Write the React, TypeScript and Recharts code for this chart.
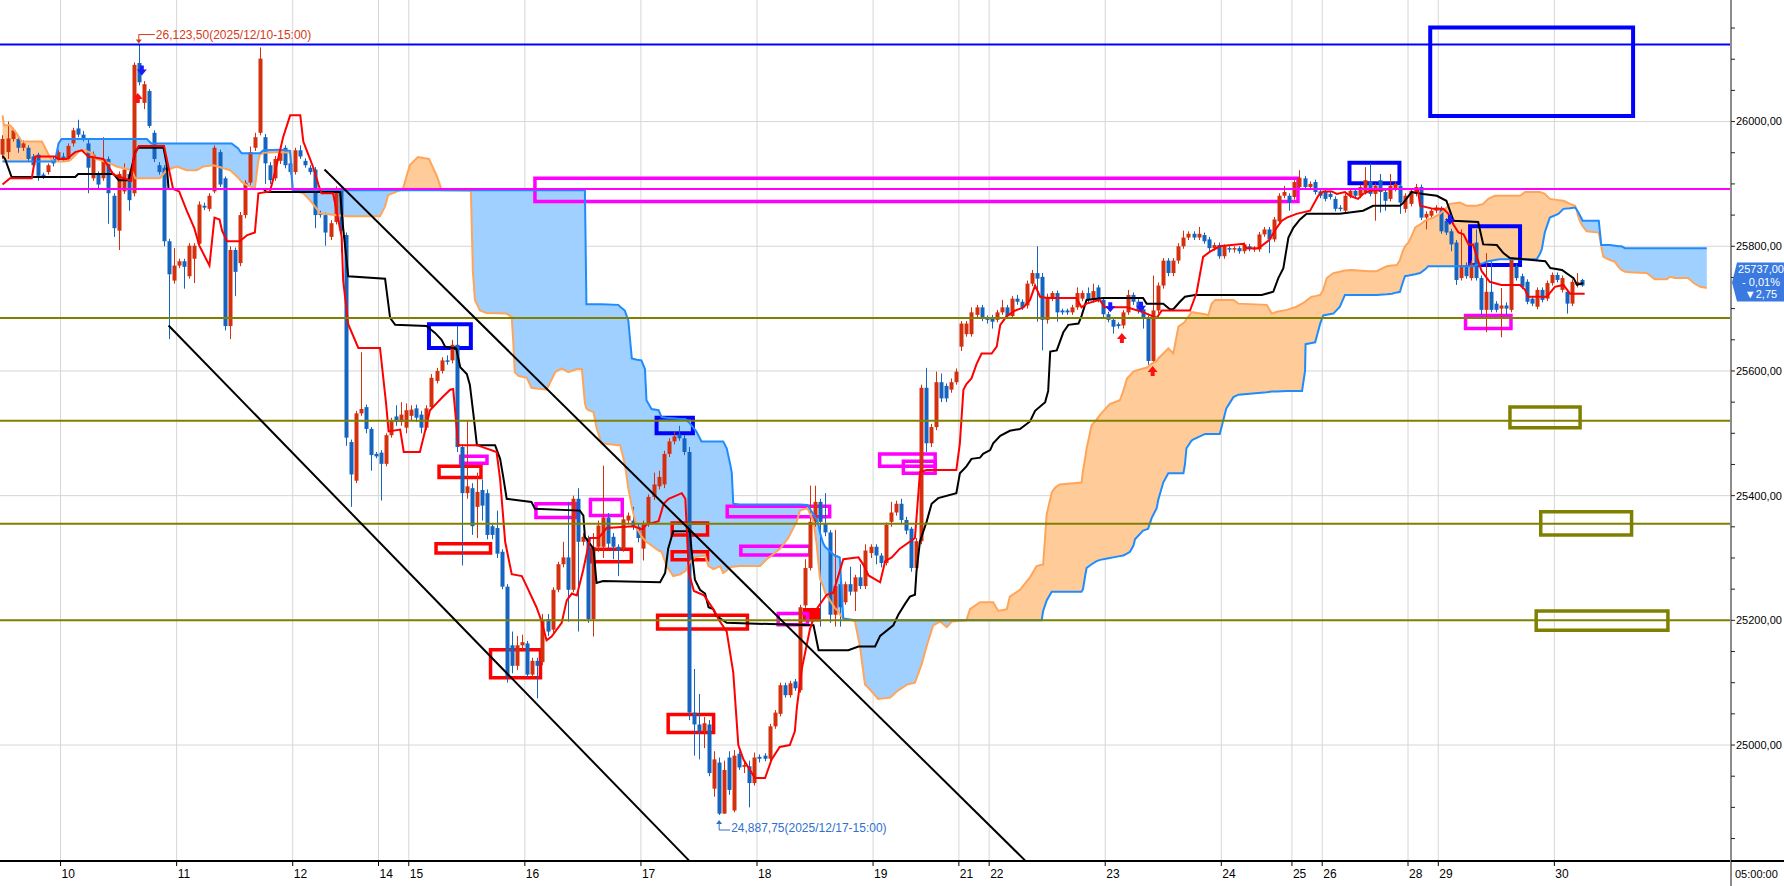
import React from "react";
import {
  Area,
  Bar,
  CartesianGrid,
  ComposedChart,
  Line,
  ReferenceArea,
  ReferenceLine,
  Scatter,
  XAxis,
  YAxis,
} from "recharts";

// hourly candles, index 0 = 12/09 12:00 -> [open, high, low, close]
const candles: [number, number, number, number][] = [
  [25947, 25978, 25940, 25972], [25951, 26000, 25940, 25973], [25972, 25990, 25968, 25986], [25972, 25976, 25950, 25958],
  [25958, 25970, 25953, 25965], [25958, 25962, 25935, 25940], [25944, 25948, 25925, 25930], [25947, 25950, 25905, 25913],
  [25915, 25918, 25908, 25912], [25919, 25933, 25915, 25930], [25940, 25944, 25928, 25933], [25940, 25955, 25936, 25951],
  [25944, 25950, 25936, 25940], [25940, 25965, 25936, 25961], [25965, 25990, 25960, 25986], [25989, 26003, 25975, 25979],
  [25979, 25985, 25968, 25972], [25965, 25972, 25885, 25926], [25909, 25952, 25905, 25947], [25916, 25920, 25892, 25899],
  [25909, 25975, 25905, 25940], [25940, 25944, 25836, 25885], [25881, 25885, 25815, 25829], [25825, 25920, 25794, 25916],
  [25888, 25933, 25884, 25923], [25916, 25920, 25857, 25874], [25885, 26095, 25880, 26091], [26094, 26123.5, 26058, 26063],
  [26030, 26065, 26020, 26060], [26049, 26052, 25990, 25993], [25982, 25986, 25935, 25940], [25930, 25935, 25915, 25919],
  [25926, 25930, 25800, 25808], [25808, 25812, 25651, 25755], [25745, 25797, 25740, 25769], [25769, 25780, 25765, 25776],
  [25776, 25780, 25732, 25767], [25752, 25805, 25748, 25801], [25780, 25805, 25741, 25801], [25804, 25872, 25800, 25867],
  [25865, 25870, 25858, 25862], [25860, 25885, 25856, 25881], [25888, 25962, 25885, 25958], [25951, 25955, 25895, 25899],
  [25909, 25912, 25665, 25672], [25672, 25800, 25651, 25794], [25794, 25798, 25720, 25759], [25773, 25855, 25768, 25850],
  [25850, 25906, 25845, 25902], [25902, 25960, 25898, 25951], [25958, 25982, 25953, 25975], [25982, 26119, 25978, 26101],
  [25975, 25980, 25900, 25933], [25930, 25935, 25900, 25906], [25909, 25945, 25905, 25940], [25937, 25958, 25932, 25954],
  [25958, 25962, 25925, 25930], [25933, 25937, 25915, 25919], [25919, 25958, 25915, 25954], [25954, 25962, 25940, 25944],
  [25937, 25941, 25926, 25930], [25926, 25930, 25915, 25919], [25923, 25927, 25829, 25850], [25853, 25857, 25846, 25850],
  [25850, 25854, 25801, 25822], [25815, 25842, 25810, 25837], [25839, 25896, 25835, 25892], [25892, 25896, 25790, 25825],
  [25818, 25822, 25480, 25493], [25486, 25490, 25382, 25434], [25424, 25536, 25420, 25532], [25532, 25630, 25528, 25539],
  [25542, 25546, 25500, 25507], [25507, 25510, 25440, 25465], [25467, 25470, 25460, 25463], [25469, 25473, 25392, 25451],
  [25451, 25500, 25447, 25497], [25497, 25525, 25493, 25521], [25527, 25545, 25512, 25518], [25518, 25550, 25512, 25530],
  [25509, 25548, 25500, 25537], [25528, 25545, 25520, 25538], [25540, 25546, 25518, 25525], [25530, 25536, 25500, 25509],
  [25509, 25545, 25505, 25540], [25542, 25595, 25538, 25589], [25584, 25605, 25580, 25600], [25600, 25622, 25596, 25617],
  [25617, 25625, 25610, 25615], [25617, 25650, 25612, 25642], [25642, 25672, 25470, 25478], [25478, 25482, 25288, 25404],
  [25404, 25520, 25395, 25415], [25412, 25420, 25337, 25351], [25382, 25437, 25332, 25406], [25409, 25426, 25360, 25384],
  [25404, 25410, 25330, 25337], [25351, 25355, 25330, 25337], [25348, 25376, 25300, 25307], [25310, 25314, 25250, 25254],
  [25254, 25258, 25100, 25110], [25160, 25182, 25115, 25127], [25127, 25175, 25120, 25160], [25160, 25177, 25150, 25165],
  [25163, 25167, 25108, 25113], [25113, 25140, 25108, 25135], [25135, 25140, 25075, 25127], [25133, 25210, 25128, 25199],
  [25202, 25210, 25175, 25182], [25185, 25253, 25180, 25249], [25249, 25294, 25245, 25290], [25290, 25326, 25285, 25301],
  [25301, 25390, 25198, 25249], [25249, 25400, 25245, 25395], [25395, 25412, 25182, 25326], [25326, 25340, 25320, 25334],
  [25332, 25336, 25196, 25202], [25202, 25340, 25174, 25318], [25318, 25360, 25310, 25352], [25318, 25448, 25300, 25365],
  [25365, 25372, 25315, 25323], [25334, 25340, 25298, 25318], [25318, 25322, 25271, 25312], [25315, 25370, 25310, 25362],
  [25360, 25373, 25355, 25368], [25360, 25382, 25345, 25350], [25350, 25355, 25325, 25332], [25315, 25360, 25296, 25354],
  [25354, 25402, 25350, 25398], [25398, 25437, 25393, 25418], [25415, 25440, 25410, 25430], [25418, 25472, 25412, 25467],
  [25467, 25492, 25462, 25487], [25487, 25503, 25482, 25495], [25498, 25512, 25488, 25492], [25492, 25497, 25465, 25470],
  [25470, 25478, 25040, 25052], [25052, 25122, 24983, 25033], [25033, 25082, 24977, 25022], [25022, 25045, 24995, 25035],
  [25033, 25040, 24950, 24955], [24930, 24990, 24917, 24977], [24972, 24980, 24887.75, 24890], [24890, 24975, 24890, 24960],
  [24980, 24990, 24920, 24928], [24895, 24992, 24892, 24983], [24986, 24990, 24960, 24964], [24965, 24975, 24955, 24968],
  [24966, 24975, 24900, 24939], [24939, 24988, 24935, 24980], [24981, 24985, 24972, 24978], [24983, 24987, 24974, 24978],
  [24978, 25034, 24974, 25030], [25030, 25056, 25026, 25052], [25050, 25100, 25046, 25096], [25096, 25100, 25076, 25080],
  [25080, 25103, 25076, 25099], [25102, 25106, 25087, 25091], [25088, 25225, 25084, 25221], [25224, 25298, 25220, 25284],
  [25284, 25416, 25280, 25358], [25358, 25416, 25350, 25390], [25390, 25395, 25190, 25358], [25355, 25404, 25335, 25341],
  [25341, 25345, 25196, 25209], [25209, 25345, 25190, 25255], [25258, 25262, 25190, 25221], [25229, 25262, 25225, 25258],
  [25258, 25286, 25240, 25246], [25246, 25273, 25215, 25269], [25269, 25290, 25250, 25255], [25255, 25322, 25250, 25312],
  [25308, 25322, 25300, 25318], [25318, 25322, 25290, 25304], [25304, 25308, 25285, 25292], [25292, 25357, 25288, 25353],
  [25358, 25390, 25350, 25373], [25373, 25392, 25368, 25387], [25387, 25395, 25355, 25361], [25361, 25366, 25338, 25344],
  [25347, 25350, 25278, 25284], [25284, 25332, 25280, 25327], [25327, 25578, 25322, 25573], [25573, 25605, 25470, 25484],
  [25484, 25515, 25478, 25510], [25510, 25599, 25505, 25582], [25582, 25596, 25550, 25556], [25576, 25580, 25550, 25556],
  [25570, 25588, 25565, 25582], [25582, 25604, 25578, 25599], [25639, 25680, 25632, 25676], [25659, 25680, 25655, 25676],
  [25659, 25702, 25655, 25694], [25690, 25706, 25686, 25702], [25702, 25706, 25680, 25685], [25685, 25689, 25676, 25682],
  [25685, 25690, 25668, 25679], [25682, 25698, 25678, 25694], [25694, 25714, 25690, 25702], [25702, 25706, 25684, 25688],
  [25688, 25720, 25684, 25716], [25716, 25722, 25706, 25711], [25711, 25715, 25698, 25702], [25705, 25745, 25700, 25740],
  [25740, 25762, 25736, 25757], [25757, 25800, 25679, 25748], [25751, 25757, 25633, 25682], [25682, 25724, 25676, 25719],
  [25716, 25728, 25712, 25725], [25725, 25729, 25679, 25694], [25697, 25700, 25690, 25694], [25697, 25700, 25690, 25694],
  [25694, 25706, 25690, 25702], [25702, 25734, 25698, 25725], [25716, 25729, 25712, 25725], [25725, 25734, 25710, 25714],
  [25714, 25740, 25710, 25728], [25734, 25738, 25710, 25714], [25714, 25718, 25686, 25691], [25691, 25695, 25678, 25682],
  [25682, 25686, 25660, 25671], [25675, 25678, 25668, 25672], [25673, 25698, 25668, 25694], [25694, 25730, 25690, 25722],
  [25722, 25726, 25706, 25711], [25711, 25715, 25692, 25697], [25699, 25703, 25668, 25685], [25685, 25689, 25610, 25616],
  [25616, 25753, 25612, 25697], [25697, 25742, 25692, 25737], [25737, 25781, 25732, 25777], [25777, 25781, 25752, 25757],
  [25757, 25781, 25752, 25777], [25777, 25805, 25772, 25800], [25800, 25825, 25796, 25814], [25814, 25824, 25810, 25820],
  [25820, 25824, 25810, 25814], [25814, 25831, 25810, 25820], [25818, 25822, 25804, 25808], [25811, 25815, 25792, 25797],
  [25797, 25806, 25793, 25802], [25802, 25806, 25780, 25784], [25784, 25803, 25780, 25800], [25797, 25800, 25790, 25795],
  [25795, 25800, 25790, 25797], [25797, 25800, 25788, 25792], [25792, 25806, 25788, 25803], [25800, 25804, 25792, 25795],
  [25795, 25800, 25791, 25797], [25795, 25823, 25791, 25819], [25819, 25831, 25815, 25827], [25827, 25831, 25789, 25811],
  [25811, 25847, 25807, 25843], [25840, 25885, 25836, 25881], [25881, 25897, 25877, 25887], [25881, 25885, 25857, 25870],
  [25879, 25906, 25875, 25903], [25895, 25922, 25891, 25910], [25909, 25913, 25891, 25895], [25895, 25904, 25891, 25900],
  [25903, 25907, 25883, 25887], [25888, 25892, 25877, 25881], [25888, 25892, 25872, 25876], [25884, 25888, 25875, 25879],
  [25876, 25880, 25856, 25860], [25862, 25866, 25856, 25860], [25857, 25885, 25853, 25881], [25881, 25893, 25877, 25889],
  [25889, 25893, 25877, 25881], [25881, 25899, 25877, 25895], [25887, 25927, 25883, 25906], [25903, 25933, 25880, 25884],
  [25884, 25901, 25841, 25897], [25906, 25916, 25854, 25887], [25887, 25891, 25857, 25873], [25876, 25916, 25872, 25897],
  [25892, 25904, 25888, 25900], [25897, 25901, 25852, 25870], [25860, 25885, 25854, 25881], [25868, 25893, 25864, 25889],
  [25884, 25900, 25880, 25895], [25895, 25899, 25842, 25846], [25846, 25856, 25827, 25852], [25849, 25861, 25845, 25857],
  [25857, 25866, 25853, 25862], [25860, 25864, 25820, 25824], [25841, 25845, 25818, 25822], [25824, 25828, 25792, 25803],
  [25806, 25810, 25738, 25746], [25749, 25827, 25745, 25770], [25770, 25774, 25748, 25752], [25749, 25777, 25745, 25773],
  [25806, 25827, 25745, 25749], [25749, 25753, 25690, 25698], [25698, 25789, 25662, 25727], [25727, 25776, 25694, 25698],
  [25708, 25712, 25694, 25698], [25700, 25733, 25654, 25705], [25705, 25710, 25690, 25700], [25698, 25782, 25694, 25779],
  [25768, 25772, 25745, 25749], [25752, 25756, 25731, 25735], [25743, 25747, 25707, 25711], [25716, 25720, 25704, 25708],
  [25703, 25734, 25699, 25730], [25730, 25734, 25710, 25714], [25716, 25745, 25712, 25741], [25741, 25758, 25737, 25754],
  [25754, 25758, 25742, 25746], [25730, 25753, 25726, 25749], [25727, 25731, 25692, 25708], [25708, 25747, 25704, 25743],
  [25738, 25757, 25734, 25743], [25746, 25748, 25735, 25737],
];

// conversion line (red) [bar, price]
const tenkanPts: [number, number][] = [
  [0, 25899], [1.5, 25909], [5.8, 25909], [6.5, 25944], [10.4, 25944], [11, 25940], [12.7, 25940], [14.4, 25951],
  [15.7, 25954], [17, 25944], [20, 25940], [22, 25915], [25.5, 25905], [26, 25944], [27, 25961], [32, 25961],
  [33.8, 25892], [35, 25888], [36.5, 25857], [38, 25829], [39, 25801], [41, 25769], [42, 25846], [43, 25843],
  [43.5, 25825], [44.5, 25808], [47, 25808], [48.5, 25818], [50, 25822], [50.7, 25885], [53, 25888], [54, 25919],
  [55.6, 25975], [57, 26010], [59, 26010], [59.6, 25968], [60.6, 25947], [61.6, 25926], [62.6, 25899], [63.2, 25885],
  [65.5, 25885], [67.2, 25815], [67.5, 25745], [68.5, 25675], [70.5, 25637], [74.8, 25637], [76, 25548], [76.5, 25503],
  [78.8, 25506], [79.5, 25470], [82.7, 25470], [83.7, 25503], [84.7, 25537], [86, 25548], [87.3, 25559], [88.7, 25570],
  [89.3, 25571], [90.3, 25481], [94, 25481], [97.9, 25470], [98.6, 25426], [99.6, 25326], [100.9, 25274], [102.9, 25271],
  [103.9, 25254], [105.8, 25221], [106.8, 25199], [107.8, 25168], [108.8, 25174], [110.8, 25196], [111.8, 25232],
  [112.8, 25243], [113.8, 25240], [115.1, 25282], [116.4, 25332], [118.1, 25332], [119.7, 25348], [125, 25351],
  [126.7, 25346], [127.7, 25354], [130, 25359], [131, 25387], [132, 25395], [134.6, 25404], [135.3, 25395], [136, 25276],
  [137, 25247], [139, 25240], [141, 25216], [142, 25200], [143.5, 25182], [144.8, 25116], [145.8, 25000], [146.8, 24977],
  [149.1, 24947], [151.1, 24947], [152.4, 24977], [154, 24997], [156, 25000], [157, 25022], [157.4, 25060], [158.4, 25123],
  [160, 25186], [161.3, 25218], [163.3, 25241], [164.6, 25244], [166.6, 25298], [169.6, 25301], [170.6, 25289],
  [171.6, 25272], [173.9, 25261], [174.9, 25295], [176.2, 25301], [177.8, 25315], [180.8, 25332], [181.8, 25438],
  [183.1, 25441], [189, 25441], [189.7, 25484], [190.4, 25570], [191, 25579], [192, 25588], [193, 25611], [194, 25628],
  [196, 25628], [197, 25639], [197.7, 25674], [199, 25688], [200.7, 25697], [202.3, 25702], [203.6, 25714], [204.6, 25737],
  [205.6, 25719], [206.9, 25717], [212.8, 25717], [213.8, 25702], [214.8, 25708], [217.4, 25714], [218.4, 25702],
  [222.8, 25702], [226.1, 25694], [228.7, 25685], [229.7, 25697], [235.3, 25697], [236.6, 25725], [237.9, 25783],
  [239.2, 25791], [241.2, 25800], [245.9, 25804], [246.5, 25797], [248.9, 25797], [251, 25810], [252.5, 25830],
  [253.5, 25841], [254.5, 25846], [256.4, 25852], [259.1, 25857], [260.7, 25881], [261.7, 25888], [263.4, 25888],
  [264.4, 25884], [266, 25887], [267, 25881], [268.6, 25876], [269.6, 25884], [271, 25889], [275.3, 25892], [279.6, 25892],
  [280.5, 25889], [280.9, 25865], [283.5, 25860], [285.5, 25860], [286.5, 25852], [287.5, 25835], [288.5, 25822],
  [289.5, 25819], [290.5, 25803], [291.4, 25803], [292.1, 25784], [293.1, 25760], [294.7, 25743], [297, 25738],
  [300.7, 25738], [301.7, 25730], [302.3, 25719], [306, 25719], [307.6, 25735], [309.3, 25738], [310.6, 25724], [313.5, 25724],
];

// base line (black) [bar, price]
const kijunPts: [number, number][] = [
  [0, 25945], [0.5, 25940], [1.8, 25911], [14.4, 25911], [15, 25916], [22, 25916], [23, 25906], [25, 25906],
  [26.3, 25951], [26.9, 25958], [31.9, 25958], [32.5, 25933], [32.9, 25892], [51.7, 25892], [52.3, 25887], [66.9, 25887],
  [67.5, 25829], [68.5, 25752], [75.8, 25748], [76.8, 25685], [77.8, 25674], [84, 25672], [85.7, 25661], [87, 25650],
  [87.7, 25639], [89.9, 25636], [90.7, 25606], [92, 25595], [92.6, 25578], [93.3, 25531], [94, 25481], [97.6, 25481],
  [98.6, 25459], [99.2, 25431], [99.9, 25395], [104.8, 25390], [105.5, 25379], [114.4, 25376], [115.1, 25368],
  [115.4, 25334], [117.1, 25315], [117.7, 25260], [119, 25263], [130.3, 25261], [131.3, 25276], [131.9, 25315],
  [132.9, 25343], [136.2, 25343], [136.5, 25315], [137.2, 25265], [138.2, 25249], [139.2, 25243], [139.9, 25221],
  [140.8, 25218], [141.5, 25207], [143.5, 25196], [160.7, 25192], [161.7, 25152], [167.6, 25152], [169.6, 25158],
  [172.9, 25158], [173.9, 25175], [176.5, 25192], [177.5, 25209], [178.8, 25226], [179.8, 25238], [180.8, 25241],
  [181.1, 25278], [181.8, 25327], [183.1, 25358], [184.1, 25387], [185.4, 25396], [189, 25404], [189.7, 25436],
  [191, 25447], [192, 25459], [193.7, 25461], [194.3, 25467], [195.7, 25473], [196.3, 25484], [197.7, 25496],
  [199.6, 25504], [201.6, 25507], [203.6, 25519], [204.6, 25536], [206.6, 25550], [207.2, 25568], [207.6, 25631],
  [208.9, 25633], [210.2, 25662], [211.2, 25674], [213.2, 25676], [213.8, 25688], [214.8, 25714], [218.1, 25717],
  [226, 25717], [226.7, 25708], [230, 25708], [231.3, 25699], [232, 25699], [233.3, 25711], [234.3, 25719], [236.3, 25722],
  [249.5, 25722], [251.8, 25727], [252.8, 25749], [253.8, 25765], [254.8, 25814], [255.8, 25830], [257.1, 25843],
  [258.4, 25852], [265, 25852], [269.6, 25857], [271.6, 25865], [276.9, 25865], [277.6, 25870], [279.2, 25887],
  [281.5, 25884], [284.2, 25881], [286.1, 25873], [287.5, 25841], [292.4, 25839], [293.4, 25803], [296.1, 25802],
  [297.4, 25789], [298.7, 25781], [305.7, 25776], [306.7, 25765], [309, 25762], [311.3, 25749], [312, 25738], [313.2, 25741],
];

// cloud edges [bar, blue span, orange span]
const cloudPts: [number, number, number][] = [
  [0, 25936, 26010], [0.3, 25936, 25994], [1.5, 25936, 25994], [2.8, 25936, 25981], [3.8, 25936, 25968],
  [7.8, 25936, 25968], [8.7, 25936, 25954], [9.4, 25936, 25942], [10.4, 25936, 25936], [11.1, 25965, 25936],
  [11.7, 25972, 25936], [12.1, 25972, 25936], [13.4, 25972, 25938], [14.4, 25972, 25946], [15.4, 25972, 25954],
  [16.3, 25972, 25954], [17.7, 25972, 25949], [18.3, 25972, 25941], [21.3, 25972, 25933], [22.6, 25972, 25928],
  [25.6, 25972, 25922], [26.3, 25972, 25909], [28.6, 25972, 25909], [29.5, 25965, 25909], [31.2, 25965, 25909],
  [32.5, 25965, 25922], [34.5, 25965, 25928], [36.5, 25965, 25922], [38.5, 25965, 25922], [39.8, 25965, 25928],
  [41.8, 25965, 25930], [45.1, 25965, 25922], [45.4, 25965, 25920], [46.7, 25957, 25910], [47.1, 25952, 25906],
  [47.4, 25949, 25903], [48.4, 25949, 25898], [50, 25949, 25893], [50.7, 25949, 25938], [51, 25949, 25947],
  [51.7, 25954, 25950], [55, 25955, 25951], [57, 25953, 25950], [57.5, 25890, 25890], [59.6, 25890, 25885],
  [60.9, 25890, 25874], [61.9, 25890, 25864], [62.9, 25890, 25853], [68.2, 25890, 25848], [74.8, 25890, 25848],
  [75.8, 25890, 25864], [76.4, 25890, 25882], [78.8, 25890, 25890], [79.4, 25890, 25894], [80.7, 25890, 25930],
  [82.3, 25890, 25943], [84.5, 25890, 25940], [86.1, 25890, 25912], [87, 25890, 25890], [92.8, 25890, 25889],
  [93.2, 25890, 25760], [93.6, 25890, 25714], [94.6, 25890, 25697], [95.9, 25890, 25693], [99.9, 25890, 25692],
  [100.9, 25890, 25686], [101.2, 25890, 25647], [101.5, 25890, 25598], [102.2, 25890, 25592], [103.9, 25890, 25589],
  [104.8, 25890, 25573], [107.8, 25890, 25570], [108.5, 25890, 25581], [109.5, 25890, 25598], [110.8, 25890, 25604],
  [112.1, 25890, 25598], [113.8, 25890, 25603], [114.8, 25890, 25603], [115.4, 25890, 25548], [115.7, 25707, 25540],
  [116.1, 25707, 25537], [117.1, 25707, 25534], [117.7, 25707, 25509], [118.7, 25707, 25484], [122, 25706, 25481],
  [122.4, 25703, 25481], [123.3, 25697, 25451], [124, 25681, 25412], [124.7, 25620, 25382], [125.7, 25618, 25348],
  [126.6, 25617, 25335], [127.3, 25603, 25328], [127.6, 25553, 25326], [128.6, 25539, 25320], [130, 25537, 25312],
  [130.6, 25526, 25310], [131.6, 25525, 25287], [132.9, 25524, 25271], [134.3, 25523, 25274], [135.3, 25523, 25279],
  [136.2, 25516, 25293], [137.2, 25506, 25301], [137.5, 25503, 25302], [138.5, 25487, 25303], [139.2, 25487, 25304],
  [139.9, 25487, 25287], [140.9, 25487, 25282], [142.2, 25487, 25287], [142.8, 25487, 25276], [143.5, 25476, 25280],
  [144.2, 25450, 25285], [144.5, 25437, 25286], [144.8, 25387, 25286], [146.1, 25386, 25287], [150.1, 25386, 25287],
  [151.4, 25386, 25298], [152.4, 25386, 25304], [154.1, 25386, 25315], [155.7, 25386, 25332], [157.4, 25386, 25359],
  [158, 25386, 25376], [159.5, 25385, 25380], [160.7, 25370, 25358], [161.3, 25362, 25324], [161.7, 25353, 25290],
  [162, 25340, 25266], [162.6, 25324, 25255], [163, 25318, 25244], [164.9, 25304, 25220], [165.6, 25302, 25215],
  [165.9, 25301, 25210], [166.6, 25203, 25203], [168.9, 25200, 25199], [169.9, 25200, 25158], [170.9, 25200, 25097],
  [171.9, 25200, 25089], [173.5, 25200, 25074], [175.9, 25200, 25076], [177.2, 25200, 25086], [179.2, 25200, 25097],
  [180.8, 25200, 25100], [182.1, 25200, 25129], [183.1, 25200, 25158], [184.4, 25200, 25192], [185.8, 25200, 25198],
  [187.1, 25200, 25189], [188.1, 25200, 25198], [191, 25200, 25200], [191.7, 25200, 25218], [193.7, 25200, 25229],
  [196.3, 25200, 25229], [197.3, 25200, 25215], [199, 25200, 25218], [199.6, 25200, 25238], [201.6, 25200, 25249],
  [203.6, 25200, 25269], [204.9, 25200, 25287], [205.9, 25200, 25289], [206.2, 25215, 25289], [206.9, 25232, 25370],
  [207.9, 25246, 25405], [208.6, 25246, 25413], [209.5, 25246, 25418], [213.8, 25246, 25421], [214.1, 25250, 25440],
  [214.5, 25270, 25459], [214.8, 25284, 25475], [215.8, 25290, 25513], [216.8, 25295, 25522], [217.5, 25297, 25530],
  [219.4, 25300, 25547], [220.1, 25301, 25549], [221.4, 25303, 25553], [222.1, 25304, 25568], [222.8, 25307, 25588],
  [223.4, 25310, 25593], [224.1, 25320, 25599], [224.4, 25330, 25600], [226, 25344, 25604], [226.7, 25346, 25605],
  [227, 25347, 25607], [227.7, 25364, 25612], [228.7, 25380, 25616], [229, 25393, 25620], [230, 25421, 25628],
  [231, 25436, 25636], [232, 25436, 25628], [233, 25436, 25671], [234, 25436, 25677], [234.3, 25450, 25679],
  [234.6, 25476, 25683], [235.6, 25488, 25694], [235.9, 25490, 25694], [238.3, 25499, 25691], [238.9, 25499, 25689],
  [239.6, 25499, 25708], [240.3, 25499, 25714], [241.2, 25499, 25714], [242.5, 25540, 25714], [243.9, 25558, 25714],
  [244.9, 25562, 25708], [250.5, 25566, 25706], [251.5, 25567, 25692], [252.5, 25567, 25695], [254.5, 25568, 25698],
  [256.4, 25568, 25703], [257.5, 25568, 25708], [258.1, 25600, 25711], [258.2, 25643, 25712], [259.4, 25645, 25719],
  [260.1, 25646, 25720], [261.1, 25676, 25722], [261.7, 25689, 25730], [262.4, 25690, 25749], [263.7, 25692, 25757],
  [265, 25703, 25759], [266, 25722, 25761], [267.3, 25722, 25762], [270.7, 25722, 25760], [272.3, 25722, 25760],
  [274.3, 25723, 25768], [275.3, 25724, 25769], [276.3, 25726, 25770], [276.9, 25727, 25778], [277.2, 25735, 25786],
  [277.6, 25745, 25795], [277.9, 25752, 25800], [278.6, 25753, 25806], [279.2, 25754, 25816], [279.9, 25755, 25830],
  [280.9, 25757, 25835], [281.9, 25763, 25841], [282.5, 25768, 25843], [283.5, 25768, 25846], [284.8, 25768, 25852],
  [286.2, 25768, 25862], [286.8, 25768, 25868], [288.8, 25768, 25870], [290.1, 25768, 25865], [291.4, 25768, 25865],
  [292.1, 25770, 25865], [293.4, 25773, 25868], [294.4, 25776, 25876], [295.7, 25778, 25881], [296.7, 25779, 25881],
  [300.7, 25779, 25881], [301.7, 25779, 25887], [304, 25779, 25887], [304.6, 25787, 25887], [305, 25795, 25886],
  [305.6, 25822, 25884], [306.6, 25846, 25876], [308.3, 25852, 25874], [309.3, 25860, 25873], [310.6, 25861, 25868],
  [311.6, 25862, 25865], [311.9, 25859, 25859], [312.2, 25855, 25849], [312.6, 25849, 25840], [313.1, 25841, 25832],
  [313.9, 25841, 25824], [316.3, 25841, 25822], [316.8, 25802, 25800], [317.2, 25802, 25783], [318.5, 25802, 25778],
  [319.5, 25801, 25775], [320.2, 25800, 25767], [320.8, 25800, 25762], [321.5, 25797, 25759], [323.1, 25797, 25758],
  [325.8, 25797, 25757], [327.4, 25797, 25747], [329.8, 25797, 25747], [330.4, 25797, 25751], [331.4, 25797, 25749],
  [334, 25797, 25749], [335.1, 25797, 25741], [336.4, 25797, 25735], [337.7, 25797, 25733],
];

// horizontal levels
const levelPrices = [26123.5, 25892, 25685, 25520, 25355, 25200];
const levelKinds = ["blue", "magenta", "olive", "olive", "olive", "olive"];

// drawn boxes [x1, x2, y1, y2, kind]
const boxes: [number, number, number, number, string][] = [
  [282.9, 323.1, 26009, 26151, "blue"],
  [105.5, 256.7, 25872, 25909, "magenta"],
  [266.9, 276.8, 25901, 25934, "blue"],
  [290.8, 300.7, 25770, 25832, "blue"],
  [289.9, 298.9, 25668, 25689, "magenta"],
  [298.7, 312.6, 25509, 25542, "olive"],
  [304.8, 322.8, 25337, 25374, "olive"],
  [303.9, 330, 25184, 25215, "olive"],
  [84.5, 92.8, 25637, 25675, "blue"],
  [129.6, 136.8, 25500, 25525, "blue"],
  [86.5, 94.8, 25429, 25447, "red"],
  [85.9, 96.7, 25308, 25323, "red"],
  [96.7, 106.6, 25108, 25153, "red"],
  [116.7, 124.6, 25294, 25314, "red"],
  [132.7, 139.7, 25337, 25356, "red"],
  [132.7, 139.7, 25297, 25310, "red"],
  [129.8, 147.6, 25186, 25208, "red"],
  [131.9, 140.9, 25020, 25049, "red"],
  [158.9, 161.8, 25201, 25217, "redfill"],
  [178.5, 184.8, 25436, 25455, "magenta"],
  [90.8, 96, 25452, 25463, "magenta"],
  [105.7, 113.8, 25365, 25387, "magenta"],
  [116.5, 122.8, 25368, 25394, "magenta"],
  [143.6, 163.9, 25366, 25383, "magenta"],
  [146.3, 160, 25305, 25319, "magenta"],
  [153.7, 159.5, 25193, 25211, "magenta"],
  [173.8, 184.8, 25447, 25467, "magenta"],
];

// trend lines [x1, y1, x2, y2]
const trendLines: [number, number, number, number][] = [
  [32.9, 25673, 136, 24815],
  [63.8, 25923, 202.6, 24815],
];

// signal arrows [bar, price, dir]
const signals: [number, number, string][] = [
  [27.6, 26082, "down"],
  [26.8, 26038, "up"],
  [219.5, 25702, "down"],
  [225.6, 25703, "down"],
  [221.8, 25653, "up"],
  [227.9, 25600, "up"],
  [286.8, 25842, "down"],
];

const dayTicks = [11.5, 34.5, 57.5, 74.5, 80.5, 103.5, 126.5, 149.5, 172.5, 189.5, 195.5, 218.5, 241.5, 255.5, 261.5, 278.5, 284.5, 307.5];
const dayLabels = ["10", "11", "12", "14", "15", "16", "17", "18", "19", "21", "22", "23", "24", "25", "26", "28", "29", "30"];

const priceTicks = [
  24850, 24900, 24950, 25000, 25050, 25100, 25150, 25200, 25250, 25300, 25350, 25400, 25450, 25500,
  25550, 25600, 25650, 25700, 25750, 25800, 25850, 25900, 25950, 26000, 26050, 26100, 26150,
];
const gridPrices = [25000, 25200, 25400, 25600, 25800, 26000];

const highNote = { bar: 27, price: 26123.5, text: "26,123,50(2025/12/10-15:00)" };
const lowNote = { bar: 142, price: 24887.75, text: "24,887,75(2025/12/17-15:00)" };
const lastPrice = { price: 25737, lines: ["25737,00", "- 0,01%", "\u25BC2,75"] };

const RED = "#d4300e";
const BLUE = "#1565c0";
const KIND_COLOR: Record<string, string> = {
  blue: "#0000ff",
  magenta: "#ff00ff",
  olive: "#808000",
  red: "#ff0000",
  redfill: "#ff0000",
};
const AXIS_FONT = "'Liberation Sans', 'DejaVu Sans', sans-serif";

const candleRows = candles.map(([o, h, l, c], i) => ({ x: i, range: [l, h], ohlc: [o, h, l, c] }));
const tenkanRows = tenkanPts.map(([x, v]) => ({ x, tenkan: v }));
const kijunRows = kijunPts.map(([x, v]) => ({ x, kijun: v }));
const cloudRows = cloudPts.map(([x, b, o]) => ({
  x,
  spanBlue: b,
  spanOrange: o,
  blueFill: b >= o ? [o, b] : null,
  orangeFill: o >= b ? [b, o] : null,
}));
const signalRows = signals.map(([x, y, dir]) => ({ x, y, dir }));

function Candle(props: any) {
  const { x, y, width, height, payload } = props;
  if (!payload || x == null) return null;
  const [o, h, l, c] = payload.ohlc;
  const top = Math.min(y, y + height);
  const span = Math.abs(height);
  const py = (v: number) => top + ((h - v) / (h - l)) * span;
  const cx = Math.round(x + width / 2);
  const color = c >= o ? RED : BLUE;
  const bTop = py(Math.max(o, c));
  const bBot = py(Math.min(o, c));
  return (
    <g>
      <line x1={cx + 0.5} x2={cx + 0.5} y1={top} y2={top + span} stroke={color} strokeWidth={1} />
      <rect x={cx - 1.5} y={bTop} width={4} height={Math.max(1.5, bBot - bTop)} fill={color} />
    </g>
  );
}

function SignalArrow(props: any) {
  const { cx, cy, payload } = props;
  if (cx == null) return null;
  const color = payload.dir === "down" ? "#1a1aff" : "#ff1010";
  const pts =
    payload.dir === "down"
      ? `${cx - 2},${cy - 5} ${cx + 2},${cy - 5} ${cx + 2},${cy - 1} ${cx + 5},${cy - 1} ${cx},${cy + 5} ${cx - 5},${cy - 1} ${cx - 2},${cy - 1}`
      : `${cx - 2},${cy + 5} ${cx + 2},${cy + 5} ${cx + 2},${cy + 1} ${cx + 5},${cy + 1} ${cx},${cy - 5} ${cx - 5},${cy + 1} ${cx - 2},${cy + 1}`;
  return <polygon points={pts} fill={color} />;
}

function HighLabel(props: any) {
  const { cx, cy } = props;
  if (cx == null) return null;
  const col = "#d43a1a";
  return (
    <g>
      <polyline points={`${cx + 16},${cy - 10} ${cx},${cy - 10} ${cx},${cy - 3}`} fill="none" stroke={col} strokeWidth={1} />
      <polygon points={`${cx - 3},${cy - 5} ${cx + 3},${cy - 5} ${cx},${cy - 1}`} fill={col} />
      <text x={cx + 17} y={cy - 10} dy="0.35em" fontSize={12} fill={col} fontFamily="'Liberation Sans', sans-serif">
        {highNote.text}
      </text>
    </g>
  );
}

function LowLabel(props: any) {
  const { cx, cy } = props;
  if (cx == null) return null;
  const col = "#2f6fd0";
  return (
    <g>
      <polyline points={`${cx},${cy + 7} ${cx},${cy + 15} ${cx + 11},${cy + 15}`} fill="none" stroke={col} strokeWidth={1} />
      <polygon points={`${cx - 3},${cy + 9} ${cx + 3},${cy + 9} ${cx},${cy + 5}`} fill={col} />
      <text x={cx + 12} y={cy + 13} dy="0.35em" fontSize={12} fill={col} fontFamily="'Liberation Sans', sans-serif">
        {lowNote.text}
      </text>
    </g>
  );
}

function PriceTag(props: any) {
  const { cx, cy } = props;
  if (cx == null) return null;
  const l = cx + 1;
  const pts = `${l},${cy - 3} ${l + 5},${cy - 23} ${l + 52},${cy - 23} ${l + 52},${cy + 16} ${l + 5},${cy + 16}`;
  return (
    <g>
      <polygon points={pts} fill="#3a7ae0" />
      {lastPrice.lines.map((s, i) => (
        <text
          key={i}
          x={l + 29}
          y={cy - 16 + i * 12.5}
          dy="0.35em"
          textAnchor="middle"
          fontSize={11}
          fill="#fff"
          fontFamily={AXIS_FONT}
        >
          {s}
        </text>
      ))}
    </g>
  );
}

function DayTick(props: any) {
  const { x, y, payload } = props;
  const i = dayTicks.indexOf(payload.value);
  return (
    <text x={x + 1} y={y + 1} dy="0.71em" textAnchor="start" fontSize={12} fill="#000" fontFamily={AXIS_FONT}>
      {dayLabels[i] ?? ""}
    </text>
  );
}

export default function App() {
  return (
    <div style={{ position: "absolute", left: 0, top: 0, width: 1784, height: 886, background: "#fff" }}>
      <ComposedChart width={1784} height={886} data={candleRows} margin={{ top: 0, right: 0, bottom: 0, left: 0 }}>
        <CartesianGrid stroke="#d6d6d6" strokeWidth={1} horizontalValues={gridPrices} verticalValues={dayTicks} />
        <XAxis
          dataKey="x"
          type="number"
          domain={[-0.5, 342.5]}
          ticks={dayTicks}
          interval={0}
          height={25}
          axisLine={{ stroke: "#000", strokeWidth: 2 }}
          tickLine={{ stroke: "#000" }}
          tickSize={5}
          tick={(p: any) => <DayTick {...p} />}
        />
        <YAxis
          orientation="right"
          type="number"
          domain={[24814, 26195]}
          ticks={priceTicks}
          interval={0}
          width={53}
          axisLine={{ stroke: "#8c8c8c", strokeWidth: 2 }}
          tickLine={{ stroke: "#222" }}
          tickSize={4}
          tickMargin={1}
          tick={{ fontSize: 11, fill: "#000", fontFamily: AXIS_FONT }}
          tickFormatter={(v: number) => (v % 200 === 0 ? `${v},00` : "")}
        />
        <Area data={cloudRows} dataKey="blueFill" type="linear" stroke="none" fill="#a0d0ff" fillOpacity={1} dot={false} activeDot={false} isAnimationActive={false} />
        <Area data={cloudRows} dataKey="orangeFill" type="linear" stroke="none" fill="#ffcc99" fillOpacity={1} dot={false} activeDot={false} isAnimationActive={false} />
        <Line data={cloudRows} dataKey="spanOrange" type="linear" stroke="#ffa55a" strokeWidth={2} dot={false} activeDot={false} isAnimationActive={false} />
        <Line data={cloudRows} dataKey="spanBlue" type="linear" stroke="#1e8cff" strokeWidth={2} dot={false} activeDot={false} isAnimationActive={false} />
        <Bar dataKey="range" barSize={4} isAnimationActive={false} activeBar={false} shape={(p: any) => <Candle {...p} />} />
        <Line data={kijunRows} dataKey="kijun" type="linear" stroke="#000" strokeWidth={2} dot={false} activeDot={false} isAnimationActive={false} />
        <Line data={tenkanRows} dataKey="tenkan" type="linear" stroke="#ff0000" strokeWidth={2} dot={false} activeDot={false} isAnimationActive={false} />
        {levelPrices.map((p, i) => (
          <ReferenceLine key={`lv${i}`} y={p} stroke={KIND_COLOR[levelKinds[i]]} strokeWidth={2} />
        ))}
        {trendLines.map(([x1, y1, x2, y2], i) => (
          <ReferenceLine key={`tl${i}`} segment={[{ x: x1, y: y1 }, { x: x2, y: y2 }]} stroke="#000" strokeWidth={2} />
        ))}
        {boxes.map(([x1, x2, y1, y2, kind], i) => (
          <ReferenceArea
            key={`bx${i}`}
            x1={x1}
            x2={x2}
            y1={y1}
            y2={y2}
            fill={kind === "redfill" ? "#ff0000" : "none"}
            fillOpacity={kind === "redfill" ? 1 : 0}
            stroke={KIND_COLOR[kind]}
            strokeWidth={kind === "blue" ? 4 : 3.5}
          />
        ))}
        <Scatter data={signalRows} dataKey="y" isAnimationActive={false} shape={(p: any) => <SignalArrow {...p} />} />
        <Scatter
          data={[{ x: highNote.bar, y: highNote.price }]}
          dataKey="y"
          isAnimationActive={false}
          shape={(p: any) => <HighLabel {...p} />}
        />
        <Scatter
          data={[{ x: lowNote.bar, y: lowNote.price }]}
          dataKey="y"
          isAnimationActive={false}
          shape={(p: any) => <LowLabel {...p} />}
        />
        <Scatter
          data={[{ x: 342.5, y: lastPrice.price }]}
          dataKey="y"
          isAnimationActive={false}
          shape={(p: any) => <PriceTag {...p} />}
        />
      </ComposedChart>
      <div style={{ position: "absolute", left: 1730, top: 861, width: 2, height: 25, background: "#8c8c8c" }} />
      <div style={{ position: "absolute", left: 1731, top: 860, width: 53, height: 2, background: "#000" }} />
      <div
        style={{
          position: "absolute",
          left: 1735,
          top: 868,
          fontSize: 11,
          fontFamily: AXIS_FONT,
          color: "#000",
        }}
      >
        05:00:00
      </div>
    </div>
  );
}
